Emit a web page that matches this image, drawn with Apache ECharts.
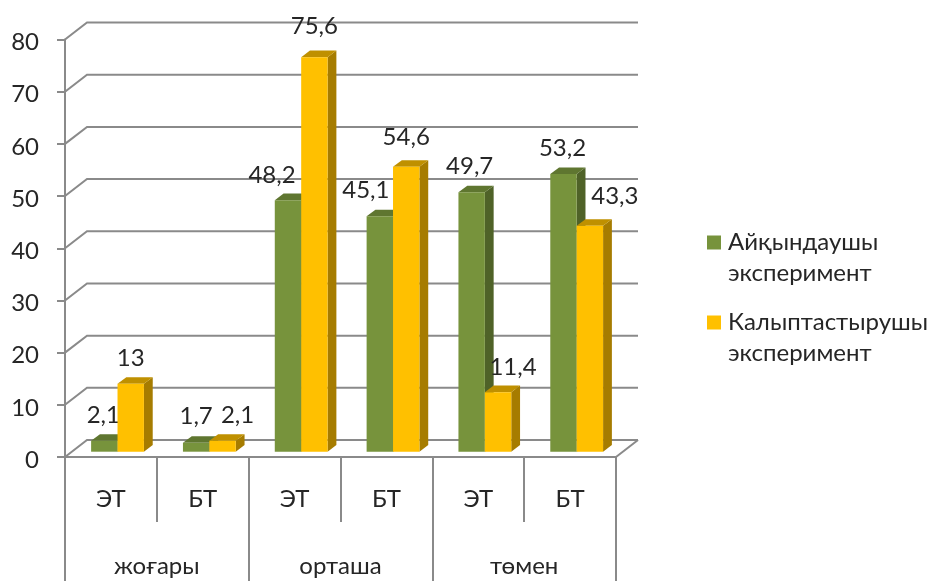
<!DOCTYPE html>
<html>
<head>
<meta charset="utf-8">
<style>html,body{margin:0;padding:0;background:#fff}#chart{width:931px;height:581px}</style>
<script src="https://cdn.jsdelivr.net/npm/echarts@6/dist/echarts.min.js"></script>
</head>
<body>
<div id="chart"></div>
<script>
// Survey levels, each split into two subgroups
const levels = ['жоғары', 'орташа', 'төмен'];
const subgroups = ['ЭТ', 'БТ', 'ЭТ', 'БТ', 'ЭТ', 'БТ'];
const seriesNames = ['Айқындаушы\nэксперимент', 'Калыптастырушы\nэксперимент'];
const ascertaining = [2.1, 1.7, 48.2, 45.1, 49.7, 53.2];
const formative = [13, 2.1, 75.6, 54.6, 11.4, 43.3];
const gridValues = [0, 10, 20, 30, 40, 50, 60, 70, 80];

// Hand placement of value labels, as [dx, dy] from the top of each bar
const ascertainingLabelNudge = [[-1, -26], [0, -28], [-16, -26], [-14, -27], [-2, -27], [-1, -27]];
const formativeLabelNudge = [[0, -27], [15, -26], [0, -32], [0, -30], [15, -26], [25, -30]];

const FONT = 'Lato, "Noto Sans", sans-serif';
const FONT_SIZE = 24;
const TEXT = '#262626';
const GRID = '#8a8a8a';
// Pseudo-3D geometry: wall depth and the bar plane inside it
const WALL = [22, -17];
const BAR_PLANE = [6.6, -5.3];
const BAR_DEPTH = [8.8, -6.6];
const BAR_WIDTH_SHARE = 0.2875;

function barRenderer(side, palette, nudges) {
  return function (params, api) {
    const idx = api.value(0);
    const val = api.value(1);
    const top = api.coord([idx, val]);
    const base = api.coord([idx, 0]);
    const w = api.size([1, 0])[0] * BAR_WIDTH_SHARE;
    const cx = top[0] + BAR_PLANE[0];
    const x0 = side < 0 ? cx - w : cx;
    const x1 = x0 + w;
    const y0 = top[1] + BAR_PLANE[1];
    const y1 = base[1] + BAR_PLANE[1];
    const dx = BAR_DEPTH[0], dy = BAR_DEPTH[1];
    const nudge = nudges[params.dataIndex];
    return {
      type: 'group',
      children: [
        { type: 'polygon', shape: { points: [[x1, y0], [x1 + dx, y0 + dy], [x1 + dx, y1 + dy], [x1, y1]] }, style: { fill: palette.side } },
        { type: 'polygon', shape: { points: [[x0, y0], [x0 + dx, y0 + dy], [x1 + dx, y0 + dy], [x1, y0]] }, style: { fill: palette.top } },
        { type: 'rect', shape: { x: x0, y: y0, width: w, height: y1 - y0 }, style: { fill: palette.front } },
        {
          type: 'text', z2: 50,
          style: {
            x: (x0 + x1) / 2 + nudge[0], y: y0 + nudge[1] + 1,
            text: String(val).replace('.', ','),
            font: FONT_SIZE + 'px ' + FONT, fill: TEXT, textAlign: 'center', textVerticalAlign: 'middle'
          }
        }
      ]
    };
  };
}

function wallRenderer(params, api) {
  const v = api.value(0);
  const cs = params.coordSys;
  const y = api.coord([0, v])[1];
  const xl = cs.x, xr = cs.x + cs.width;
  const children = [{
    type: 'polyline',
    shape: { points: [[xl, y], [xl + WALL[0], y + WALL[1]], [xr + WALL[0], y + WALL[1]]] },
    style: { stroke: GRID, lineWidth: 2, fill: null }
  }];
  if (v === 0) {
    children.push({
      type: 'line',
      shape: { x1: xr, y1: y, x2: xr + WALL[0], y2: y + WALL[1] },
      style: { stroke: GRID, lineWidth: 2 }
    });
  }
  return { type: 'group', children };
}

const chart = echarts.init(document.getElementById('chart'));
chart.setOption({
  animation: false,
  backgroundColor: '#fff',
  textStyle: { fontFamily: FONT },
  grid: { left: 65, right: 315, top: 39.5, bottom: 124, containLabel: false },
  xAxis: [
    {
      type: 'category', data: subgroups, position: 'bottom',
      axisLine: { show: true, lineStyle: { color: GRID, width: 2 } },
      axisTick: { show: true, alignWithLabel: false, length: 65, lineStyle: { color: GRID, width: 2 } },
      axisLabel: { color: TEXT, fontSize: FONT_SIZE, fontFamily: FONT, margin: 30, interval: 0 }
    },
    {
      type: 'category', data: levels, position: 'bottom',
      axisLine: { show: true, lineStyle: { color: GRID, width: 2 } },
      axisTick: { show: true, alignWithLabel: false, length: 124, lineStyle: { color: GRID, width: 2 } },
      axisLabel: { color: TEXT, fontSize: FONT_SIZE, fontFamily: FONT, margin: 97, interval: 0 }
    }
  ],
  yAxis: {
    type: 'value', min: 0, max: 80, interval: 10,
    axisLine: { show: true, lineStyle: { color: GRID, width: 2 } },
    axisTick: { show: true, length: 8, lineStyle: { color: GRID, width: 2 } },
    axisLabel: {
      margin: 26,
      formatter: value => '{tick|' + value + '}',
      // Top padding drops the numbers a little below their tick marks
      rich: { tick: { color: TEXT, fontSize: FONT_SIZE, fontFamily: FONT, padding: [6, 0, 0, 0] } }
    },
    splitLine: { show: false }
  },
  legend: {
    left: 702, top: 191, orient: 'vertical', icon: 'rect',
    itemWidth: 14, itemHeight: 14, itemGap: -13,
    data: seriesNames,
    // A leading blank line keeps the swatch level with the first line of each entry
    formatter: name => '\n' + name,
    textStyle: { color: TEXT, fontSize: FONT_SIZE, fontFamily: FONT, lineHeight: 31, padding: [0, 0, 0, 2] }
  },
  series: [
    {
      type: 'custom', silent: true, z: 1,
      data: gridValues.map(v => [v]),
      encode: { y: 0 },
      renderItem: wallRenderer
    },
    {
      type: 'custom', name: seriesNames[0], z: 2,
      itemStyle: { color: '#77933C' },
      data: ascertaining.map((v, i) => [i, v]),
      encode: { x: 0, y: 1 },
      renderItem: barRenderer(-1, { front: '#77933C', top: '#5F7630', side: '#4F6228' }, ascertainingLabelNudge)
    },
    {
      type: 'custom', name: seriesNames[1], z: 3,
      itemStyle: { color: '#FFC000' },
      data: formative.map((v, i) => [i, v]),
      encode: { x: 0, y: 1 },
      renderItem: barRenderer(1, { front: '#FFC000', top: '#BF9000', side: '#A67C00' }, formativeLabelNudge)
    }
  ]
});
</script>
</body>
</html>
